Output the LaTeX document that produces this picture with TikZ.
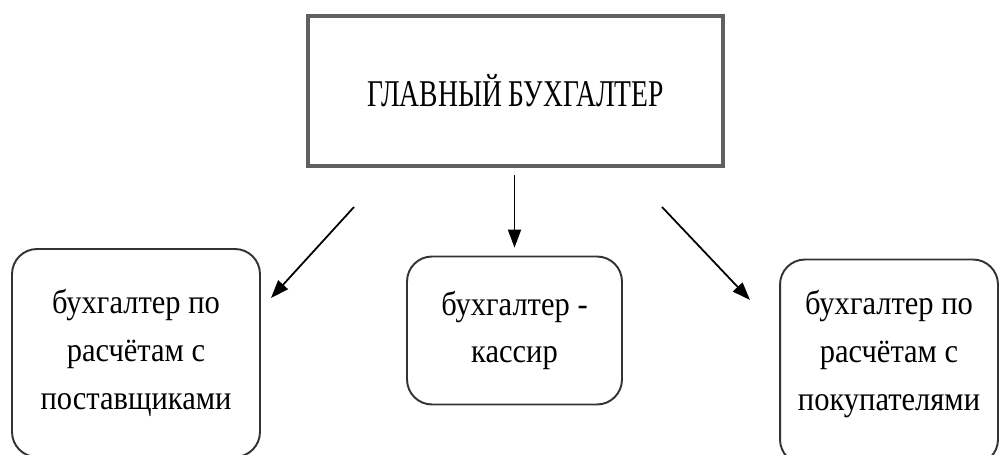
\documentclass[tikz,border=0pt]{standalone}
\usepackage{fontspec}
\setmainfont{Liberation Serif}
\newfontfamily\headfont[FakeStretch=0.73]{Liberation Serif}
\newfontfamily\stafffont[FakeStretch=0.9]{Liberation Serif}
\usetikzlibrary{arrows.meta}

\begin{document}
\begin{tikzpicture}[x=0.02cm, y=-0.02cm,
    chief/.style={draw=gray!75!black, line width=2pt, minimum width=8.3cm, minimum height=3cm,
        inner sep=0pt, font=\headfont\fontsize{21.5}{26}\selectfont},
    staff/.style={draw=black!80, line width=1.1pt, rounded corners=0.5cm, align=center,
        inner sep=0pt, font=\stafffont\fontsize{19.3}{27.2}\selectfont},
    arr/.style={-{Triangle[length=0.36cm,width=0.26cm]}, line width=1pt}]

    \useasboundingbox (0,0) rectangle (1000,455);
    \clip (0,0) rectangle (1000,455);

    \node[chief] (chief) at (515.5,91) {ГЛАВНЫЙ БУХГАЛТЕР};

    \node[staff, minimum width=4.96cm, minimum height=4.16cm] (supp) at (136,353)
        {бухгалтер по\\расчётам с\\поставщиками};
    \node[staff, minimum width=4.3cm, minimum height=2.96cm] (cash) at (514.5,330.5)
        {бухгалтер -\\кассир};
    \node[staff, minimum width=4.36cm, minimum height=4.1cm] (cust) at (889,362)
        {бухгалтер по\\расчётам с\\покупателями\\[-14pt]};

    \coordinate (suppA) at (354,207);
    \coordinate (suppB) at (271,298);
    \coordinate (custA) at (662,207);
    \coordinate (custB) at (750,300);

    \draw[arr] (suppA) -- (suppB);
    \draw[arr, shorten <=4pt, shorten >=4.5pt] (chief.south -| cash.north) -- (cash.north);
    \draw[arr] (custA) -- (custB);

\end{tikzpicture}
\end{document}
